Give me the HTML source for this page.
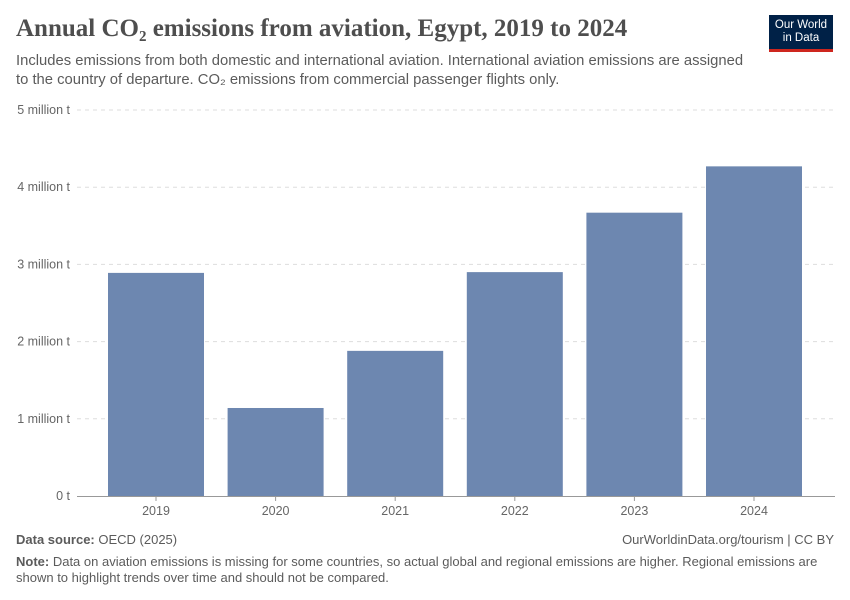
<!DOCTYPE html>
<html><head><meta charset="utf-8"><style>
body{margin:0;background:#fff;width:850px;height:600px;overflow:hidden;font-family:"Liberation Sans",sans-serif;position:relative}
.t{position:absolute;white-space:nowrap}
</style></head><body>
<div class="t" style="left:16px;top:15px;font-family:'Liberation Serif',serif;font-size:25px;font-weight:bold;color:#4e4e4e">Annual CO₂ emissions from aviation, Egypt, 2019 to 2024</div>
<div class="t" style="left:16px;top:52px;font-size:14.8px;line-height:19px;color:#5b5b5b">Includes emissions from both domestic and international aviation. International aviation emissions are assigned<br>to the country of departure. CO₂ emissions from commercial passenger flights only.</div>
<div style="position:absolute;left:769px;top:15px;width:64px;height:37px;background:#002147;border-bottom:3px solid #ce261e;box-sizing:border-box;color:#fff;font-size:11.5px;line-height:13px;text-align:center;padding-top:4px">Our World<br>in Data</div>
<svg id="c" width="850" height="600" style="position:absolute;left:0;top:0"></svg>
<div class="t" style="left:16px;top:532px;font-size:13px;color:#5b5b5b"><b>Data source:</b> OECD (2025)</div>
<div class="t" style="right:16px;top:532px;font-size:13px;color:#5b5b5b">OurWorldinData.org/tourism | CC BY</div>
<div class="t" style="left:16px;top:554px;font-size:13px;line-height:15.5px;color:#5b5b5b"><b>Note:</b> Data on aviation emissions is missing for some countries, so actual global and regional emissions are higher. Regional emissions are<br>shown to highlight trends over time and should not be compared.</div>
<script>
const categories=["2019","2020","2021","2022","2023","2024"];
const values=[2.89,1.14,1.88,2.90,3.67,4.27];
const tickValues=[0,1,2,3,4,5];
const tickLabels=["0 t","1 million t","2 million t","3 million t","4 million t","5 million t"];
const svg=document.getElementById('c');const NS='http://www.w3.org/2000/svg';
const y0=496,pxPer=77.2,bandStart=96.2,band=119.6,barW=96;
const y=v=>y0-v*pxPer;const x=i=>bandStart+i*band+band/2;
function el(t,a){const e=document.createElementNS(NS,t);for(const k in a)e.setAttribute(k,a[k]);svg.appendChild(e);return e;}
tickValues.forEach((v,i)=>{
 if(v>0){const g=el('line',{x1:77,x2:835,y1:y(v),y2:y(v),stroke:'#ddd','stroke-dasharray':'4,4'});
 
 }
 const t=el('text',{x:70,y:y(v)+4,'text-anchor':'end','font-size':12.5,fill:'#666','font-family':'Liberation Sans,sans-serif'});t.textContent=tickLabels[i];
 
 
});
values.forEach((v,i)=>{
 const r=el('rect',{x:x(i)-barW/2,y:y(v),width:barW,height:v*pxPer,fill:'#6d87b0'});
 
 
 const t=el('text',{x:x(i),y:515,'text-anchor':'middle','font-size':12.5,fill:'#666','font-family':'Liberation Sans,sans-serif'});t.textContent=categories[i];
 
 
 const tk=el('line',{x1:x(i),x2:x(i),y1:y0,y2:y0+5,stroke:'#999'});
 
 
});
const ax=el('line',{x1:77,x2:835,y1:y0+0.5,y2:y0+0.5,stroke:'#999'});


</script>
</body></html>
